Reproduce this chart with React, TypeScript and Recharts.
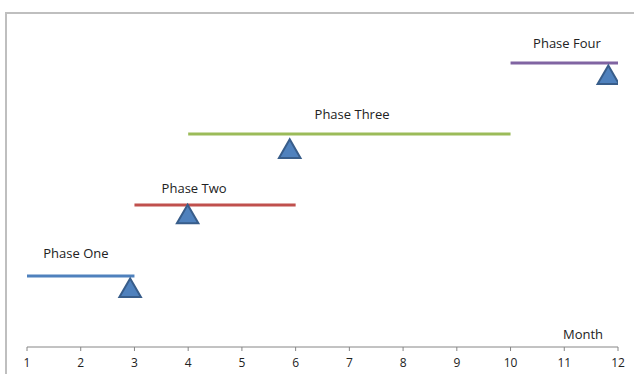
import React from "react";
import { ComposedChart, Scatter, XAxis, YAxis, Symbols } from "recharts";

const months = [1, 2, 3, 4, 5, 6, 7, 8, 9, 10, 11, 12];

const phaseNames = ["Phase One", "Phase Two", "Phase Three", "Phase Four"];
const phaseStart = [1, 3, 4, 10];
const phaseEnd = [3, 6, 10, 12];
const phaseLevel = [1, 2, 3, 4];
const phaseColors = ["#4F81BD", "#C0504D", "#9BBB59", "#8064A2"];

// triangle markers (current progress)
const markerX = [2.92, 3.99, 5.89, 11.82];
const markerY = [0.79, 1.83, 2.75, 3.79];

// phase label positions
const labelX = [1.91, 4.11, 7.05, 11.05];
const labelY = [1.32, 2.23, 3.28, 4.28];

const segments = phaseNames.map((name, i) => [
  { x: phaseStart[i], y: phaseLevel[i] },
  { x: phaseEnd[i], y: phaseLevel[i] },
]);

const markers = markerX.map((x, i) => ({ x, y: markerY[i] }));
const labels = phaseNames.map((name, i) => ({ x: labelX[i], y: labelY[i], name }));

const font = "'Open Sans', 'Noto Sans', sans-serif";

const MonthLabel = (props: any) => {
  const vb = props.viewBox || {};
  return (
    <text
      x={vb.x + vb.width - 35}
      y={vb.y - 8}
      textAnchor="middle"
      fontSize={13}
      fontFamily={font}
      fill="#222"
    >
      Month
    </text>
  );
};

const PhaseLabel = (props: any) => (
  <text
    x={props.cx}
    y={props.cy}
    dy="0.35em"
    textAnchor="middle"
    fontSize={13}
    fontFamily={font}
    fill="#222"
  >
    {props.payload.name}
  </text>
);

const Triangle = (props: any) => (
  <Symbols
    cx={props.cx}
    cy={props.cy}
    type="triangle"
    size={200}
    fill="#4F81BD"
    stroke="#385D8A"
    strokeWidth={2}
  />
);

const App: React.FC = () => {
  return (
    <div style={{ position: "fixed", left: 0, top: 0, width: 634, height: 374, overflow: "hidden", background: "#fff" }}>
      <div
        style={{
          position: "absolute",
          left: 5,
          top: 12,
          width: 700,
          height: 500,
          borderLeft: "2px solid #BFBFBF",
          borderTop: "2px solid #BFBFBF",
        }}
      />
      <div style={{ position: "absolute", left: 0, top: 0 }}>
        <ComposedChart
          width={634}
          height={374}
          margin={{ top: 27.5, right: 16, left: 27, bottom: 0 }}
        >
          <XAxis
            type="number"
            dataKey="x"
            domain={[1, 12]}
            ticks={months}
            interval={0}
            allowDataOverflow
            height={27}
            tickSize={4}
            tickMargin={7}
            stroke="#868686"
            tick={{ fill: "#222", fontSize: 12, fontFamily: font }}
            label={<MonthLabel />}
          />
          <YAxis type="number" dataKey="y" domain={[0, 4.5]} hide width={0} />
          {segments.map((seg, i) => (
            <Scatter
              key={phaseNames[i]}
              data={seg}
              fill={phaseColors[i]}
              line={{ stroke: phaseColors[i], strokeWidth: 3 }}
              shape={() => <g />}
              isAnimationActive={false}
            />
          ))}
          <Scatter data={markers} shape={Triangle} isAnimationActive={false} />
          <Scatter data={labels} shape={PhaseLabel} isAnimationActive={false} />
        </ComposedChart>
      </div>
    </div>
  );
};

export default App;
